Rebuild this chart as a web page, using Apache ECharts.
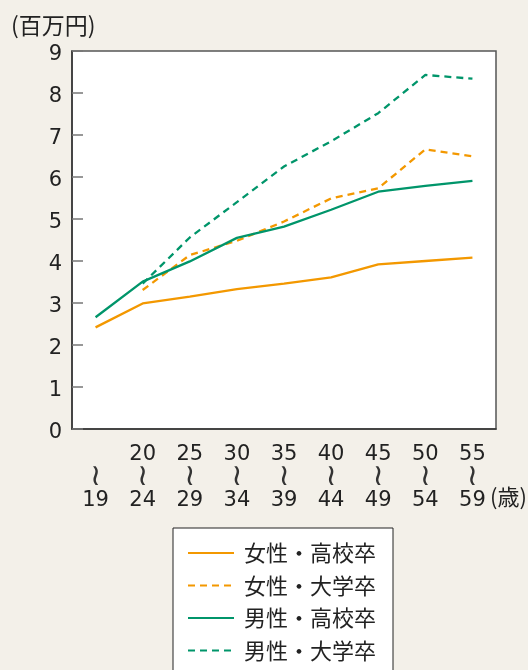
<!DOCTYPE html>
<html>
<head>
<meta charset="utf-8">
<script src="https://cdn.jsdelivr.net/npm/echarts@6/dist/echarts.min.js"></script>
<style>
  html, body { margin: 0; padding: 0; background: #F3F0E9; }
  #chart { width: 528px; height: 670px; }
</style>
</head>
<body>
<div id="chart"></div>
<script>
// Age brackets (lower / upper bound of each band)
const ageFrom = ['', '20', '25', '30', '35', '40', '45', '50', '55'];
const ageTo = ['19', '24', '29', '34', '39', '44', '49', '54', '59'];
const yTicks = [0, 1, 2, 3, 4, 5, 6, 7, 8, 9];

// Annual income by age bracket (million yen)
const femaleHigh = [2.42, 2.99, 3.15, 3.33, 3.46, 3.61, 3.92, 4.00, 4.08];
const femaleUniv = [null, 3.31, 4.14, 4.48, 4.94, 5.49, 5.73, 6.66, 6.49];
const maleHigh = [2.66, 3.51, 3.99, 4.55, 4.82, 5.22, 5.65, 5.79, 5.91];
const maleUniv = [null, 3.46, 4.56, 5.40, 6.25, 6.85, 7.52, 8.43, 8.34];

const seriesNames = ['女性・高校卒', '女性・大学卒', '男性・高校卒', '男性・大学卒'];

const ORANGE = '#F39800';
const GREEN = '#00956A';
const FONT = '"Noto Sans CJK JP", "Noto Sans", sans-serif';
const NUM_FONT = '"DejaVu Sans", "Noto Sans", sans-serif';

const categories = ageFrom.map((f, i) => f + '|' + ageTo[i]);

function lineSeries(name, data, color, dashed) {
  return {
    name: name,
    type: 'line',
    data: data,
    symbol: 'none',
    connectNulls: false,
    lineStyle: { color: color, width: 2.3, type: dashed ? [7, 5] : 'solid' },
    itemStyle: { color: color },
    emphasis: { disabled: true },
    animation: false
  };
}

const chart = echarts.init(document.getElementById('chart'), null, { renderer: 'canvas' });

chart.setOption({
  backgroundColor: '#F3F0E9',
  animation: false,
  textStyle: { fontFamily: FONT },
  grid: {
    left: 72, right: 32, top: 51, bottom: 241,
    show: true,
    backgroundColor: '#FFFFFF',
    borderColor: '#555555',
    borderWidth: 1.5
  },
  graphic: [
    {
      type: 'text', left: 11, top: 14,
      style: { text: '(百万円)', font: '23px ' + FONT, fill: '#222' }
    },
    {
      type: 'text', left: 490, top: 486,
      style: { text: '(歳)', font: '22px ' + FONT, fill: '#222' }
    }
  ],
  legend: {
    orient: 'vertical',
    left: 173, top: 528,
    height: 220,
    data: seriesNames,
    backgroundColor: '#FFFFFF',
    borderColor: '#222222',
    borderWidth: 1,
    borderRadius: 0,
    padding: [14, 17, 16, 14],
    itemWidth: 46,
    itemHeight: 14,
    itemGap: 10.5,
    selectedMode: false,
    itemStyle: { opacity: 0 },
    textStyle: { fontFamily: FONT, fontSize: 22, color: '#222', padding: [0, 0, 0, 5] }
  },
  xAxis: {
    type: 'category',
    data: categories,
    boundaryGap: true,
    axisLine: { lineStyle: { color: '#333', width: 1.5 } },
    axisTick: { alignWithLabel: true, inside: true, length: 10, lineStyle: { color: '#333', width: 1.5 } },
    axisLabel: {
      margin: 14,
      fontFamily: NUM_FONT,
      fontSize: 21,
      lineHeight: 23,
      color: '#222',
      interval: 0,
      rich: {
        w: { fontFamily: NUM_FONT, fontSize: 30, lineHeight: 23, color: '#333' }
      },
      formatter: function (v) {
        const p = v.split('|');
        return (p[0] || ' ') + '\n{w|≀}\n' + p[1];
      }
    }
  },
  yAxis: {
    type: 'value',
    min: yTicks[0],
    max: yTicks[yTicks.length - 1],
    interval: 1,
    splitLine: { show: false },
    axisLine: { show: true, lineStyle: { color: '#333', width: 1.5 } },
    axisTick: { show: true, inside: true, length: 11, lineStyle: { color: '#777', width: 1.5 } },
    axisLabel: {
      margin: 10,
      color: '#222',
      formatter: function (v) { return '{n|' + v + '}'; },
      rich: {
        n: { fontFamily: NUM_FONT, fontSize: 21, color: '#222', padding: [7, 0, 0, 0] }
      }
    }
  },
  series: [
    lineSeries(seriesNames[0], femaleHigh, ORANGE, false),
    lineSeries(seriesNames[1], femaleUniv, ORANGE, true),
    lineSeries(seriesNames[2], maleHigh, GREEN, false),
    lineSeries(seriesNames[3], maleUniv, GREEN, true)
  ]
});
</script>
</body>
</html>
